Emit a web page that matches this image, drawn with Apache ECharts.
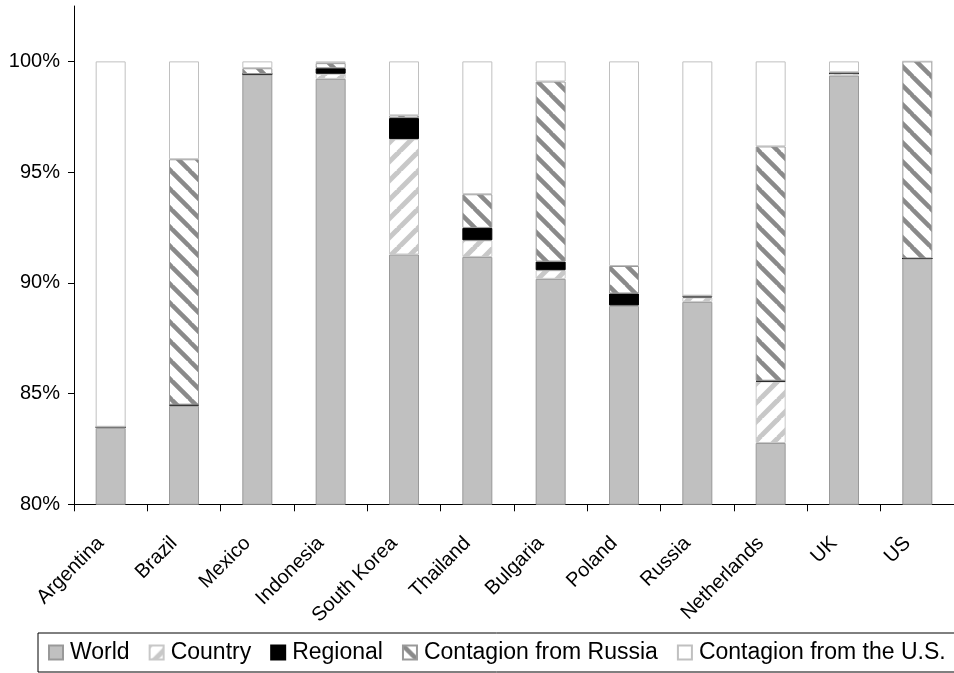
<!DOCTYPE html>
<html>
<head>
<meta charset="utf-8">
<script src="https://cdn.jsdelivr.net/npm/echarts@6/dist/echarts.min.js"></script>
<style>
html,body{margin:0;padding:0;background:#fff;}
#chart{width:954px;height:673px;}
</style>
</head>
<body>
<div id="chart"></div>
<script>
const categories = ['Argentina','Brazil','Mexico','Indonesia','South Korea','Thailand','Bulgaria','Poland','Russia','Netherlands','UK','US'];
const world    = [83.45, 84.45, 99.41, 99.21, 91.28, 91.17, 90.18, 88.96, 89.14, 82.77, 99.36, 91.10];
const country  = [0.03, 0.02, 0.02, 0.23, 5.21, 0.75, 0.39, 0.02, 0.20, 2.78, 0.10, 0.00];
const regional = [0.00, 0.03, 0.00, 0.25, 0.95, 0.56, 0.39, 0.54, 0.06, 0.03, 0.00, 0.00];
const russia   = [0.02, 11.08, 0.26, 0.23, 0.12, 1.52, 8.13, 1.24, 0.02, 10.58, 0.05, 8.90];
const usa      = [16.50, 4.42, 0.31, 0.08, 2.44, 6.00, 0.91, 9.24, 10.58, 3.84, 0.49, 0.00];
const yTicks = [80, 85, 90, 95, 100];

function stripes(dir, color, p, w) {
  const c = document.createElement('canvas');
  c.width = p; c.height = p;
  const ctx = c.getContext('2d');
  ctx.fillStyle = '#fff';
  ctx.fillRect(0, 0, p, p);
  ctx.strokeStyle = color;
  ctx.lineWidth = w;
  for (let k = -1; k <= 1; k++) {
    ctx.beginPath();
    if (dir === 'back') {
      ctx.moveTo(k * p - 1, -1); ctx.lineTo(k * p + p + 1, p + 1);
    } else {
      ctx.moveTo(k * p - 1, p + 1); ctx.lineTo(k * p + p + 1, -1);
    }
    ctx.stroke();
  }
  return { image: c, repeat: 'repeat' };
}

const countryFill = stripes('fwd', '#c8c8c8', 19, 5);
const russiaFill = stripes('back', '#8a8a8a', 19, 4.5);

const chart = echarts.init(document.getElementById('chart'), null, {renderer: 'canvas'});
const font = 'Liberation Sans, Arial, sans-serif';
function mk(name, data, fill, border) {
  return {
    name: name, type: 'bar', stack: 'total', data: data, barWidth: 30,
    itemStyle: { color: fill, borderColor: border, borderWidth: 1 },
    emphasis: { disabled: true }
  };
}
chart.setOption({
  animation: false,
  textStyle: { fontFamily: font },
  grid: { left: 74, right: -6, top: 6, bottom: 168.7, containLabel: false },
  legend: {
    left: 38, top: 633, width: 1100, selectedMode: false, icon: 'rect',
    padding: [7, 10, 7, 10], borderColor: '#000', borderWidth: 1,
    itemWidth: 14, itemHeight: 14, itemGap: 19,
    textStyle: { fontFamily: font, fontSize: 23, color: '#000', padding: [0, 0, 0, 2], lineHeight: 25 },
    data: ['World', 'Country', 'Regional', 'Contagion from Russia', 'Contagion from the U.S.']
  },
  xAxis: {
    type: 'category', data: categories,
    axisLine: { lineStyle: { color: '#000', width: 1 } },
    axisTick: { show: true, interval: 0, length: 7, lineStyle: { color: '#000' } },
    axisLabel: { interval: 0, rotate: 45, fontSize: 20, color: '#000', fontFamily: font, margin: 26, padding: [0, 14, 0, 0] }
  },
  yAxis: {
    type: 'value', min: 80, max: 102.5, interval: 5,
    splitLine: { show: false },
    axisLine: { show: true, lineStyle: { color: '#000', width: 1 } },
    axisTick: { show: true, length: 6, lineStyle: { color: '#000' }, customValues: yTicks },
    axisLabel: { fontSize: 20, color: '#000', fontFamily: font, margin: 14, formatter: '{value}%', customValues: yTicks }
  },
  series: [
    mk('World', world, '#c0c0c0', '#999'),
    mk('Country', country, countryFill, '#c8c8c8'),
    mk('Regional', regional, '#000', '#000'),
    mk('Contagion from Russia', russia, russiaFill, '#999'),
    mk('Contagion from the U.S.', usa, '#fff', '#c0c0c0')
  ]
});
</script>
</body>
</html>
